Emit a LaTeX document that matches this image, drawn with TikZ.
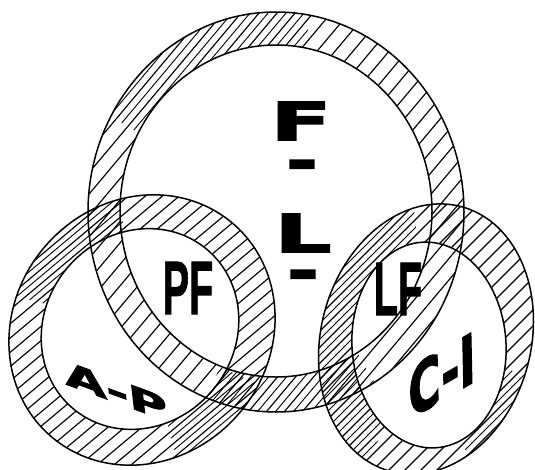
\documentclass[tikz,border=0pt]{standalone}
\usepackage{fontspec}
\setmainfont{Liberation Sans}
\newfontfamily\fat{DejaVu Sans Bold}[FakeBold=2.5]
\newfontfamily\narrowbold{Liberation Sans Bold}[FakeBold=1.5]
\begin{document}
\begin{tikzpicture}[x=1pt,y=-1pt,
  outline/.style={draw=black,line width=1.5pt},
  hatchline/.style={draw=black,line width=1.15pt},
  fineline/.style={draw=black,line width=0.9pt},
  bigtext/.style={font=\fat\fontsize{53}{53}\selectfont,inner sep=0pt,xscale=1.68},
  dashtext/.style={font=\fat\fontsize{58}{58}\selectfont,inner sep=0pt,anchor=base,xscale=1.3},
  pftext/.style={font=\narrowbold\fontsize{76}{76}\selectfont,inner sep=0pt,xscale=0.52},
  slanttext/.style={font=\fat\fontsize{30}{30}\selectfont,inner sep=0pt}]
\useasboundingbox (0,0) rectangle (535,469);
% ring geometry
\def\BigOut{(276,212) circle [x radius=188pt, y radius=200pt]}
\def\BigIn{(276,211) circle [x radius=156pt, y radius=166pt]}
\def\LeftOut{(142,330) circle [x radius=128pt, y radius=140pt, rotate=-40]}
\def\LeftIn{(140,329) circle [x radius=95pt, y radius=104pt, rotate=-40]}
\def\RightOut{(426,339) circle [x radius=105pt, y radius=137pt, rotate=-15]}
\def\RightIn{(429,345) circle [x radius=77pt, y radius=103pt, rotate=4]}
% white bands
\fill[white,even odd rule] \BigOut \BigIn;
\fill[white,even odd rule] \LeftOut \LeftIn;
\fill[white,even odd rule] \RightOut \RightIn;
% texts
\node[bigtext] (f) at (301,121) {F};
\node[dashtext] (d1) at (302,181) {-};
\node[bigtext] (l) at (303,233) {L};
\node[dashtext] (d2) at (303,291) {-};
\node[pftext] (pf) at (188,288) {PF};
\node[pftext] (lf) at (398,289) {LF};
\node[slanttext,rotate=-20,xslant=-0.5,xscale=1.9] (ap) at (116,391) {A-P};
\node[slanttext,font=\fat\fontsize{50}{50}\selectfont,rotate=30,xslant=0.55,yscale=1.2] (ci) at (442,375) {C-I};
% hatching, big ring (about 50 degrees)
\begin{scope}[even odd rule]
  \clip \BigOut \BigIn;
  \foreach \c in {0,18,...,960} \draw[hatchline] (\c,0) -- (\c-403,480);
  \begin{scope}[nonzero rule]
    \clip (276,212) -- (319,-34) -- (149,-60) -- (59,87) -- cycle
          (276,212) -- (187,456) -- (300,491) -- (406,437) -- cycle;
    \foreach \c in {9,27,...,960} \draw[fineline] (\c,0) -- (\c-403,480);
  \end{scope}
\end{scope}
% hatching, left ring (about 40 degrees)
\begin{scope}[even odd rule]
  \clip \LeftOut \LeftIn;
  \foreach \c in {5,22,...,1120} \draw[hatchline] (\c,0) -- (\c-572,480);
  \begin{scope}[nonzero rule]
    \clip (142,330) -- (107,133) -- (-19,152) -- (-51,278) -- cycle
          (142,330) -- (194,523) -- (290,506) -- (323,415) -- cycle;
    \foreach \c in {13,30,...,1120} \draw[fineline] (\c,0) -- (\c-572,480);
  \end{scope}
\end{scope}
% hatching, right ring (45 degrees)
\begin{scope}[even odd rule]
  \clip \RightOut \RightIn;
  \foreach \c in {11,27,...,1060} \draw[hatchline] (\c,0) -- (\c-480,480);
  \begin{scope}[nonzero rule]
    \clip (426,339) -- (408,141) -- (233,179) -- (179,383) -- (340,521) -- cycle
          (426,339) -- (493,528) -- (595,510) -- (613,408) -- cycle;
    \foreach \c in {19,35,...,1060} \draw[fineline] (\c,0) -- (\c-480,480);
  \end{scope}
\end{scope}
% outlines
\path[outline] \BigOut;
\path[outline] \BigIn;
\path[outline] \LeftOut;
\path[outline] \LeftIn;
\path[outline] \RightOut;
\path[outline] \RightIn;
\end{tikzpicture}
\end{document}
